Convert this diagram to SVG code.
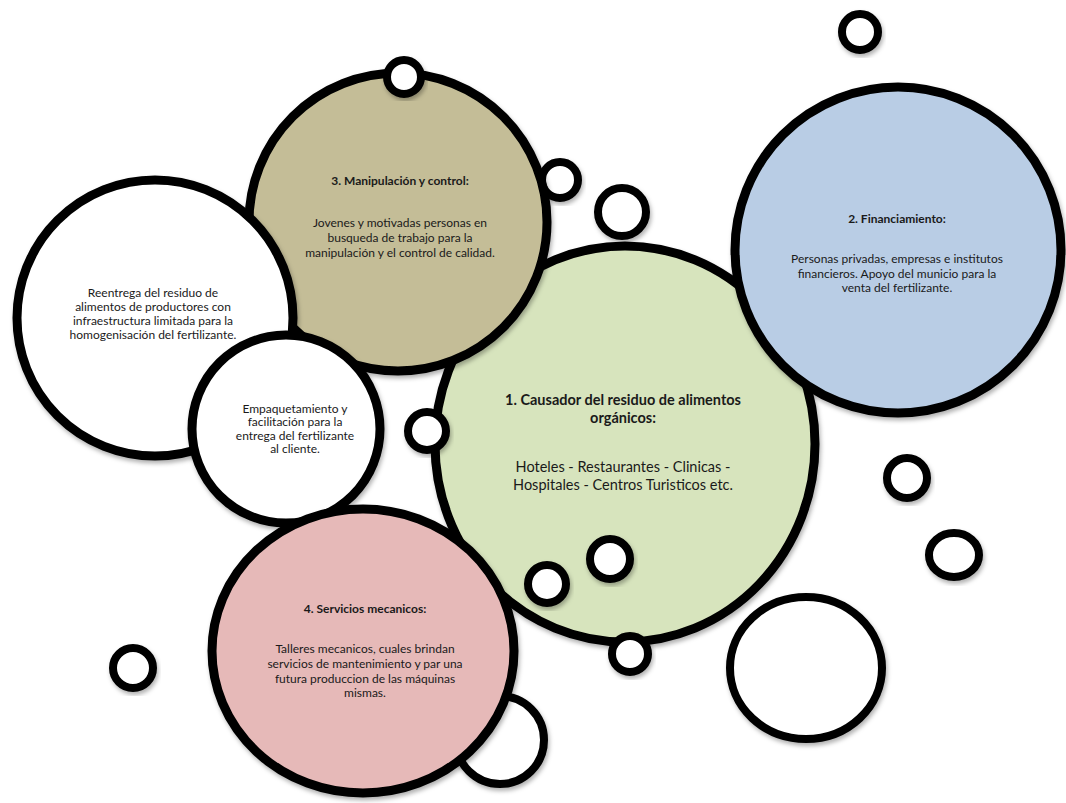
<svg xmlns="http://www.w3.org/2000/svg" width="1066" height="803" viewBox="0 0 1066 803">
<defs>
<filter id="sh" x="-20%" y="-20%" width="140%" height="140%">
<feDropShadow dx="1.5" dy="3" stdDeviation="2" flood-color="#000" flood-opacity="0.3"/>
</filter>
<style>
.c{stroke:#000;stroke-width:9;filter:url(#sh)}
.s{fill:#fff;stroke:#000;stroke-width:8;filter:url(#sh)}
.w{fill:#fff}
.t{font-family:Lato,"Liberation Sans",sans-serif;font-size:12px;fill:#1a1a1a;text-anchor:middle}
.b{font-weight:bold}
.g{font-size:14.5px}
</style>
</defs>
<rect width="1066" height="803" fill="#fff"/>
<g id="connectors"/>
<g id="bubble-a"><circle class="s" cx="560" cy="180" r="18"/></g>
<g id="bubble-b"><circle class="s" cx="622" cy="212" r="24"/></g>
<g id="bubble-c"><circle class="s" cx="500" cy="740" r="44"/></g>
<g id="node-causador">
<ellipse class="c" cx="625" cy="444" rx="190" ry="198" fill="#D7E4BD"/>
<text class="t b g" x="623" y="405">1. Causador del residuo de alimentos</text>
<text class="t b g" x="623" y="423">orgánicos:</text>
<text class="t g" x="623" y="472">Hoteles - Restaurantes - Clinicas -</text>
<text class="t g" x="623" y="490">Hospitales - Centros Turisticos etc.</text>
</g>
<g id="node-financiamiento">
<circle class="c" cx="898" cy="250" r="163" fill="#B9CDE5"/>
<text class="t b" x="897" y="223">2.  Financiamiento:</text>
<text class="t" x="897" y="263">Personas privadas, empresas e institutos</text>
<text class="t" x="897" y="278">financieros. Apoyo del municio para la</text>
<text class="t" x="897" y="292">venta del fertilizante.</text>
</g>
<g id="node-manipulacion">
<circle class="c" cx="398" cy="222" r="149" fill="#C4BD97"/>
<text class="t b" x="400" y="185">3. Manipulación y control:</text>
<text class="t" x="400" y="227">Jovenes y motivadas personas en</text>
<text class="t" x="400" y="242">busqueda de trabajo para la</text>
<text class="t" x="400" y="257">manipulación y el control de calidad.</text>
</g>
<g id="node-reentrega">
<circle class="c" cx="155" cy="318" r="138" fill="#fff"/>
<text class="t" x="153" y="297">Reentrega del residuo de</text>
<text class="t" x="153" y="311">alimentos de productores con</text>
<text class="t" x="153" y="325">infraestructura limitada para la</text>
<text class="t" x="153" y="339">homogenisación del fertilizante.</text>
</g>
<g id="node-empaquetamiento">
<circle class="c" cx="286" cy="429" r="94" fill="#fff"/>
<text class="t" x="295" y="413">Empaquetamiento y</text>
<text class="t" x="295" y="426">facilitación para la</text>
<text class="t" x="295" y="440">entrega del fertilizante</text>
<text class="t" x="295" y="453">al cliente.</text>
</g>
<g id="node-servicios">
<ellipse class="c" cx="363" cy="651" rx="151" ry="142" fill="#E6B9B8"/>
<text class="t b" x="365" y="613">4. Servicios mecanicos:</text>
<text class="t" x="365" y="653">Talleres mecanicos, cuales brindan</text>
<text class="t" x="365" y="668">servicios de mantenimiento y par una</text>
<text class="t" x="365" y="683">futura produccion de las máquinas</text>
<text class="t" x="365" y="697">mismas.</text>
</g>
<g id="bubble-d"><circle class="s" cx="404" cy="77" r="17"/></g>
<g id="bubble-e"><circle class="s" cx="427" cy="431" r="19"/></g>
<g id="bubble-f"><circle class="s" cx="610" cy="559" r="20"/></g>
<g id="bubble-g"><circle class="s" cx="547" cy="584" r="19"/></g>
<g id="bubble-h"><circle class="s" cx="630" cy="654" r="18"/></g>
<g id="bubble-i"><circle class="s" cx="133" cy="668" r="20"/></g>
<g id="bubble-j"><circle class="s" cx="860" cy="32" r="18"/></g>
<g id="bubble-k"><circle class="s" cx="907" cy="478" r="20"/></g>
<g id="bubble-l"><ellipse class="s" cx="954" cy="555" rx="25" ry="22"/></g>
<g id="bubble-m"><ellipse class="s" cx="806" cy="668" rx="76" ry="71"/></g>
</svg>
